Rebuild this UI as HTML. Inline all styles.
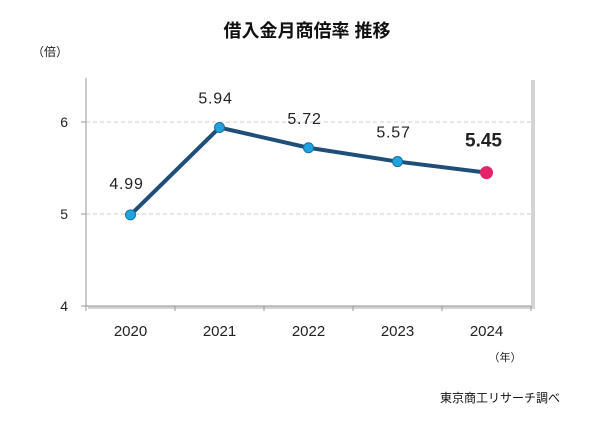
<!DOCTYPE html>
<html><head><meta charset="utf-8"><style>
body{margin:0;width:600px;height:422px;background:#fff;overflow:hidden}
svg text{font-family:"Liberation Sans","DejaVu Sans","Noto Sans CJK JP",sans-serif}
</style></head><body>
<svg id="chart" width="600" height="422">
<text x="307" y="37" font-size="18" font-weight="bold" text-anchor="middle" fill="#111">借入金月商倍率 推移</text>
<text x="50" y="56" font-size="12" text-anchor="middle" fill="#222">（倍）</text>
<text x="505" y="361" font-size="11" text-anchor="middle" fill="#222">（年）</text>
<text x="560" y="402" font-size="12" text-anchor="end" fill="#111">東京商工リサーチ調べ</text>
<rect x="88" y="80" width="447" height="229" fill="#c8c8c8" opacity="0.8"/>
<rect x="86" y="78" width="445" height="228" fill="#fff"/>
<g id="grid"></g><g id="axes"></g><g id="series"></g>
</svg>
<script>
const categories=["2020","2021","2022","2023","2024"];
const values=[4.99,5.94,5.72,5.57,5.45];
const labels=["4.99","5.94","5.72","5.57","5.45"];
const yTicks=[4,5,6];
const NS="http://www.w3.org/2000/svg";
const L=86,R=531,Y0=306,PU=92;
const bw=(R-L)/categories.length;
const x=i=>L+bw*(i+0.5);
const y=v=>Y0-(v-4)*PU;
function mk(t,a,p){const e=document.createElementNS(NS,t);for(const k in a)e.setAttribute(k,a[k]);p.appendChild(e);return e;}
const grid=document.getElementById('grid'),axes=document.getElementById('axes'),ser=document.getElementById('series');
yTicks.forEach(v=>{
 if(v>4){const g=mk('line',{x1:L,x2:R,y1:y(v),y2:y(v),stroke:'#ccc','stroke-dasharray':'4,3'},grid);
 
 }
 const t=mk('text',{x:L-18,y:y(v)+5,'font-size':14,'text-anchor':'end',fill:'#222'},axes);t.textContent=v;
 
 
 mk('line',{x1:L-5,x2:L,y1:y(v),y2:y(v),stroke:'#999'},axes);
});
mk('line',{x1:L,x2:L,y1:78,y2:Y0,stroke:'#999'},axes);
mk('line',{x1:L,x2:R,y1:Y0,y2:Y0,stroke:'#999'},axes);
for(let i=0;i<=categories.length;i++)mk('line',{x1:L+bw*i,x2:L+bw*i,y1:Y0,y2:Y0+5,stroke:'#999'},axes);
categories.forEach((c,i)=>{
 const t=mk('text',{x:x(i),y:336,'font-size':15,'text-anchor':'middle',fill:'#222'},axes);t.textContent=c;
 
 
});
const line=mk('polyline',{points:values.map((v,i)=>x(i)+','+y(v)).join(' '),fill:'none',stroke:'#1f4e79','stroke-width':4,'stroke-linejoin':'round'},ser);


values.forEach((v,i)=>{
 const last=i===values.length-1;
 const p=mk('circle',{cx:x(i),cy:y(v),r:last?6:5,fill:last?'#e8226b':'#1fa3df',stroke:last?'#e8226b':'#1a6fa0','stroke-width':1},ser);
 
 
 const dy=i===0?-26:-24;
 const t=mk('text',{x:x(i)+(last?-3:-4),y:y(v)+dy+(last?-2:0),'font-size':last?19:16,'letter-spacing':last?0:0.8,'font-weight':last?'bold':'normal','text-anchor':'middle',fill:'#222'},ser);
 t.textContent=labels[i];
 
 
});
</script>
</body></html>
